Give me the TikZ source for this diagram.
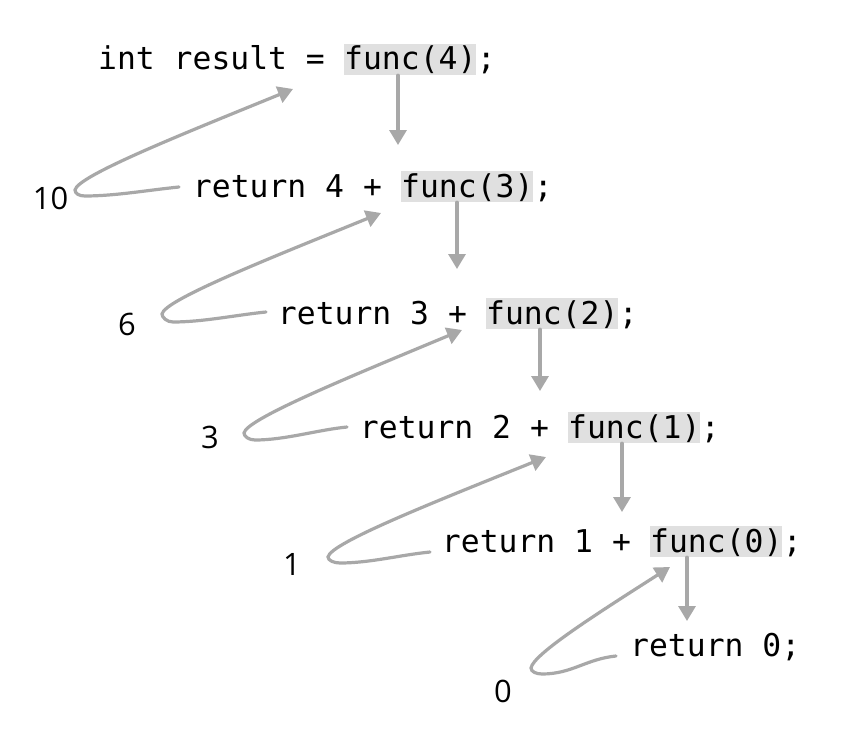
\documentclass[tikz,border=0pt]{standalone}
\usepackage{fontspec}
\setmonofont{DejaVu Sans Mono}
\newfontfamily\numfont{Open Sans}
\usetikzlibrary{arrows.meta,calc}
\definecolor{arrowgray}{HTML}{A8A8A8}
\definecolor{hlgray}{HTML}{E0E0E0}
\tikzset{
  code/.style={font=\ttfamily\fontsize{31.5}{32}\selectfont, inner sep=0pt, text height=26bp, text depth=5bp},
  callbox/.style={code, fill=hlgray},
  numlabel/.style={font=\numfont\fontsize{31}{32}\selectfont, inner sep=0pt},
  flow/.style={draw=arrowgray, line width=3.2bp, line cap=round, -{Triangle[length=15bp,width=17bp]}},
}
\newcommand{\monosp}{\phantom{x}}
\begin{document}
\begin{tikzpicture}[x=1bp,y=-1bp]
\useasboundingbox[fill=white] (0,0) rectangle (845,736);

% code lines
\node[callbox, anchor=base west] (f0) at (344,70) {func(4)};
\node[code, anchor=base east] (p0) at (f0.base west) {int result =\monosp};
\node[code, anchor=base west] (s0) at (f0.base east) {;};

\node[callbox, anchor=base west] (f1) at (401,197) {func(3)};
\node[code, anchor=base east] (p1) at (f1.base west) {return 4 +\monosp};
\node[code, anchor=base west] (s1) at (f1.base east) {;};

\node[callbox, anchor=base west] (f2) at (486,324) {func(2)};
\node[code, anchor=base east] (p2) at (f2.base west) {return 3 +\monosp};
\node[code, anchor=base west] (s2) at (f2.base east) {;};

\node[callbox, anchor=base west] (f3) at (568,438) {func(1)};
\node[code, anchor=base east] (p3) at (f3.base west) {return 2 +\monosp};
\node[code, anchor=base west] (s3) at (f3.base east) {;};

\node[callbox, anchor=base west] (f4) at (650,552) {func(0)};
\node[code, anchor=base east] (p4) at (f4.base west) {return 1 +\monosp};
\node[code, anchor=base west] (s4) at (f4.base east) {;};

\node[code, anchor=base west] (l5) at (630,656) {return 0;};

% return values
\node[numlabel, anchor=base] (n1) at (50.5,209) {10};
\node[numlabel, anchor=base] (n2) at (127,335) {6};
\node[numlabel, anchor=base] (n3) at (210,448) {3};
\node[numlabel, anchor=base] (n4) at (292,575) {1};
\node[numlabel, anchor=base] (n5) at (503,702) {0};

% call arrows
\coordinate (d0) at (398,145);
\coordinate (d1) at (457,269);
\coordinate (d2) at (540,391);
\coordinate (d3) at (622,512);
\coordinate (d4) at (687,621);
\draw[flow] (f0.south -| d0) -- (d0);
\draw[flow] (f1.south -| d1) -- (d1);
\draw[flow] (f2.south -| d2) -- (d2);
\draw[flow] (f3.south -| d3) -- (d3);
\draw[flow] (f4.south -| d4) -- (d4);

% return arrows: start s, bottom b, leftmost p, tip t
\coordinate (r1s) at (179,187); \coordinate (r1b) at (85,196);  \coordinate (r1p) at (75,190);  \coordinate (r1t) at (293,89);
\coordinate (r2s) at (266,312); \coordinate (r2b) at (173,322); \coordinate (r2p) at (162,314); \coordinate (r2t) at (381,213);
\coordinate (r3s) at (347,427); \coordinate (r3b) at (255,440); \coordinate (r3p) at (244,433); \coordinate (r3t) at (462,330);
\coordinate (r4s) at (430,552); \coordinate (r4b) at (340,563); \coordinate (r4p) at (328,557); \coordinate (r4t) at (546,457);
\coordinate (r5s) at (616,656); \coordinate (r5b) at (542,674); \coordinate (r5p) at (531,668); \coordinate (r5t) at (670,567);
\foreach \i in {1,...,5}{
  \draw[flow] (r\i s) .. controls ($(r\i s)+(-30,3)$) and ($(r\i b)+(30,0)$) .. (r\i b)
              .. controls ($(r\i b)+(-6,0)$) and ($(r\i p)+(0,3.5)$) .. (r\i p)
              .. controls ($(r\i p)+(2,-14)$) and ($($(r\i t)!0.5!(r\i p)$)+(0,-6)$) .. (r\i t);
}
\end{tikzpicture}
\end{document}
